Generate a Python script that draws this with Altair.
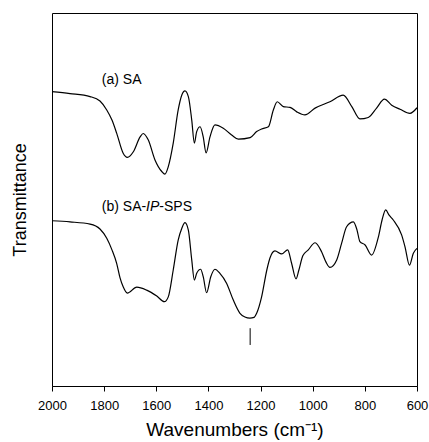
import altair as alt
import pandas as pd

# ---- data ----
wn_a = [2000, 1931, 1854, 1816, 1790, 1770, 1752, 1727, 1711, 1688, 1662, 1650, 1631, 1605, 1579,
        1567, 1554, 1535, 1516, 1502, 1490, 1477, 1464, 1454, 1445, 1432, 1420, 1409, 1394, 1375,
        1343, 1311, 1285, 1240, 1215, 1196, 1170, 1151, 1136, 1113, 1087, 1061, 1030, 991, 934,
        883, 850, 819, 787, 755, 725, 697, 665, 627, 600]
t_a = [78.9, 78.4, 77.6, 76.4, 74.0, 71.3, 67.8, 62.4, 61.3, 62.8, 66.8, 67.7, 66.0, 60.6, 57.5,
       56.8, 58.8, 65.1, 74.0, 78.0, 79.1, 77.6, 71.3, 65.1, 68.2, 69.5, 66.8, 62.5, 66.8, 70.0,
       69.1, 67.3, 66.2, 66.6, 68.2, 68.9, 69.5, 74.0, 76.2, 74.9, 74.7, 73.5, 72.7, 74.5, 76.2,
       78.0, 74.9, 71.6, 72.0, 74.5, 76.9, 75.3, 74.2, 73.1, 74.6]

wn_b = [2000, 1931, 1854, 1816, 1790, 1770, 1752, 1739, 1727, 1711, 1675, 1637, 1598, 1569, 1554,
        1535, 1516, 1502, 1490, 1477, 1464, 1454, 1445, 1430, 1420, 1407, 1391, 1375, 1356, 1330,
        1305, 1279, 1260, 1241, 1225, 1215, 1196, 1176, 1164, 1145, 1119, 1096, 1081, 1064, 1053,
        1038, 1017, 991, 966, 949, 934, 908, 889, 870, 844, 830, 819, 799, 774, 748,
        734, 720, 707, 691, 659, 646, 629, 614, 600]
t_b = [44.3, 44.0, 43.4, 42.1, 39.6, 36.5, 32.9, 29.0, 26.6, 24.9, 26.5, 25.7, 24.1, 22.6, 23.9,
       31.1, 39.1, 42.3, 43.8, 41.8, 33.8, 28.4, 30.2, 31.3, 29.3, 25.0, 29.3, 31.3, 30.2, 27.5,
       23.1, 19.5, 18.5, 18.2, 18.4, 19.5, 23.9, 31.1, 34.3, 36.2, 35.4, 36.5, 32.9, 28.7, 31.1,
       34.9, 36.5, 38.4, 36.0, 33.2, 31.8, 33.8, 38.3, 42.7, 44.0, 41.8, 38.7, 37.8, 35.1, 40.0,
       44.5, 47.2, 45.8, 44.5, 40.5, 37.3, 32.4, 35.6, 36.9]

x_ticks = [2000, 1800, 1600, 1400, 1200, 1000, 800, 600]

# labels: text, wavenumber position, transmittance position, style, offset in px
label_texts = ["(a) SA", "(b) SA-", "IP", "-SPS"]
label_wn = [1809, 1809, 1809, 1809]
label_t = [82.0, 48.1, 48.1, 48.1]
label_style = ["normal", "normal", "italic", "normal"]
label_dx = [0, 0, 44.3, 57.5]

marker_wn = [1240]
marker_t1 = [15.5]
marker_t2 = [11.0]

FONT = "Liberation Sans"

spectra = pd.concat([
    pd.DataFrame({"wn": wn_a, "t": t_a, "series": "a"}),
    pd.DataFrame({"wn": wn_b, "t": t_b, "series": "b"}),
])

xscale = alt.Scale(domain=[600, 2000], reverse=True, nice=False, zero=False)
yscale = alt.Scale(domain=[0, 100], nice=False, zero=False)

lines = alt.Chart(spectra).mark_line(color="black", strokeWidth=1.2, interpolate="monotone").encode(
    x=alt.X("wn:Q", scale=xscale,
            axis=alt.Axis(values=x_ticks, title="Wavenumbers (cm⁻¹)", grid=False,
                          tickSize=5, tickColor="black", domainColor="black",
                          labelFontSize=13, labelColor="black", labelFont=FONT,
                          labelFlush=False, labelOverlap=False,
                          labelPadding=8, titleFontSize=19, titleFont=FONT,
                          titleFontWeight="normal", titleColor="black", titlePadding=8,
                          format="d")),
    y=alt.Y("t:Q", scale=yscale,
            axis=alt.Axis(title="Transmittance", ticks=False, labels=False, domain=False,
                          grid=False, titleFontSize=18, titleFont=FONT,
                          titleFontWeight="normal", titleColor="black", titlePadding=23)),
    detail="series:N",
    order=alt.Order("wn:Q", sort="descending"),
)

layers = [lines]
for txt, w, t, st, dx in zip(label_texts, label_wn, label_t, label_style, label_dx):
    df = pd.DataFrame({"wn": [w], "t": [t], "label": [txt]})
    layers.append(
        alt.Chart(df).mark_text(align="left", baseline="middle", fontSize=14, font=FONT,
                                fontStyle=st, color="black", dx=dx).encode(
            x=alt.X("wn:Q", scale=xscale), y=alt.Y("t:Q", scale=yscale), text="label:N")
    )

mk = pd.DataFrame({"wn": marker_wn, "t1": marker_t1, "t2": marker_t2})
layers.append(
    alt.Chart(mk).mark_rule(color="black", strokeWidth=1).encode(
        x=alt.X("wn:Q", scale=xscale), y=alt.Y("t1:Q", scale=yscale), y2="t2:Q")
)

chart = alt.layer(*layers).properties(
    width=365, height=373,
    autosize=alt.AutoSizeParams(type="none"),
    padding={"left": 52, "top": 13, "right": 12, "bottom": 56},
    background="white",
).configure_view(stroke="black", strokeWidth=1)

chart.save("out.html", embed_options={"renderer": "svg", "actions": False})
